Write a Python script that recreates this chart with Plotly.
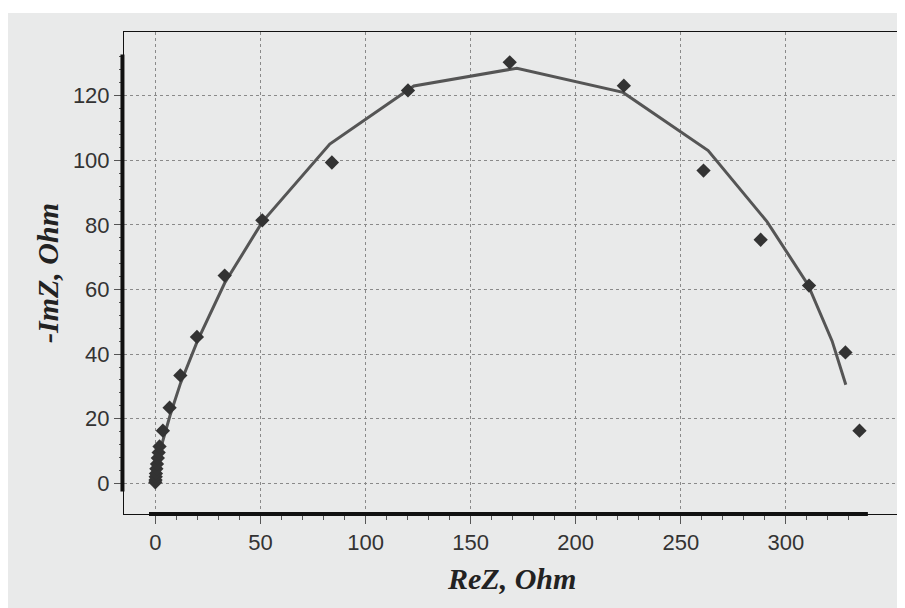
import plotly.graph_objects as go

# Measured impedance points (ReZ, -ImZ)
re_pts = [0.0, 0.1, 0.2, 0.3, 0.5, 0.8, 1.2, 1.6, 2.0, 3.6, 6.8, 11.9, 19.8, 33.0, 50.9, 84.0, 120.2, 168.6, 222.9, 260.8, 288.0, 311.0, 328.3, 335.0]
im_pts = [0.3, 1.0, 2.0, 3.0, 4.5, 6.0, 7.8, 9.5, 11.4, 16.3, 23.4, 33.4, 45.3, 64.3, 81.4, 99.3, 121.6, 130.3, 123.1, 96.8, 75.4, 61.2, 40.5, 16.3]

# Fitted model curve
re_fit = [0.0, 0.5, 1.5, 3.5, 7.0, 12.0, 20.0, 33.0, 51.0, 83.0, 123.0, 172.0, 222.5, 263.0, 291.0, 310.5, 322.0, 328.5]
im_fit = [0.0, 3.0, 7.0, 13.0, 21.0, 31.0, 44.0, 62.0, 81.0, 105.0, 123.0, 128.5, 121.0, 103.0, 81.0, 61.5, 44.0, 30.5]

x_ticks = [0, 50, 100, 150, 200, 250, 300]
y_ticks = [0, 20, 40, 60, 80, 100, 120]
x_minor = [v for v in range(10, 340, 10) if v % 50 != 0]
y_minor = [v for v in range(4, 136, 4) if v % 20 != 0]

BG = "#e9eaea"
fig = go.Figure()
fig.add_trace(go.Scatter(x=re_fit, y=im_fit, mode="lines",
                         line=dict(color="#555555", width=3), showlegend=False))
fig.add_trace(go.Scatter(x=re_pts, y=im_pts, mode="markers",
                         marker=dict(symbol="diamond", size=11, color="#333333"),
                         showlegend=False))

axis_common = dict(
    showgrid=True, gridcolor="#8a8a8a", griddash="dot", gridwidth=1,
    showline=True, mirror=True, linecolor="#111111", linewidth=1,
    ticks="outside", ticklen=9, tickcolor="#555555", tickwidth=1,
    tickfont=dict(family="Liberation Sans, Arial, sans-serif", size=22, color="#333333"),
    zeroline=False,
)
fig.update_xaxes(range=[-14.9, 353.8], tickvals=x_ticks, ticktext=[str(v) for v in x_ticks],
                 minor=dict(tickvals=x_minor, ticks="outside", ticklen=5, tickcolor="#555555", showgrid=False),
                 **axis_common)
fig.update_yaxes(range=[-9.5, 139.7], tickvals=y_ticks, ticktext=[str(v) for v in y_ticks],
                 minor=dict(tickvals=y_minor, ticks="outside", ticklen=4, tickcolor="#555555", showgrid=False),
                 **axis_common)

shapes = [
    # white strip at the very top
    dict(type="rect", xref="paper", yref="paper", x0=-0.2, x1=1.1, y0=1.0394, y1=1.07,
         fillcolor="white", line=dict(width=0), layer="below"),
    # thick axis lines spanning the data range
    dict(type="line", xref="x", yref="paper", x0=-3, x1=339, y0=0, y1=0,
         line=dict(color="#111111", width=4)),
    dict(type="line", xref="paper", yref="y", x0=-0.002, x1=-0.002, y0=-2.5, y1=132.7,
         line=dict(color="#111111", width=4)),
]

title_font = dict(family="Liberation Serif, Times New Roman, serif", size=30, color="#222222",
                  weight="bold", style="italic")
annotations = [
    dict(text="ReZ, Ohm", xref="paper", yref="paper", x=0.5, y=-0.133, showarrow=False,
         xanchor="center", yanchor="middle", font=title_font),
    dict(text="-ImZ, Ohm", xref="paper", yref="paper", x=-0.0994, y=0.5, showarrow=False,
         xanchor="center", yanchor="middle", textangle=-90, font=title_font),
]

fig.update_layout(
    width=897, height=600,
    margin=dict(l=116, r=6, t=24, b=94),
    paper_bgcolor=BG, plot_bgcolor=BG,
    shapes=shapes, annotations=annotations,
)

fig.write_html("out.html")
